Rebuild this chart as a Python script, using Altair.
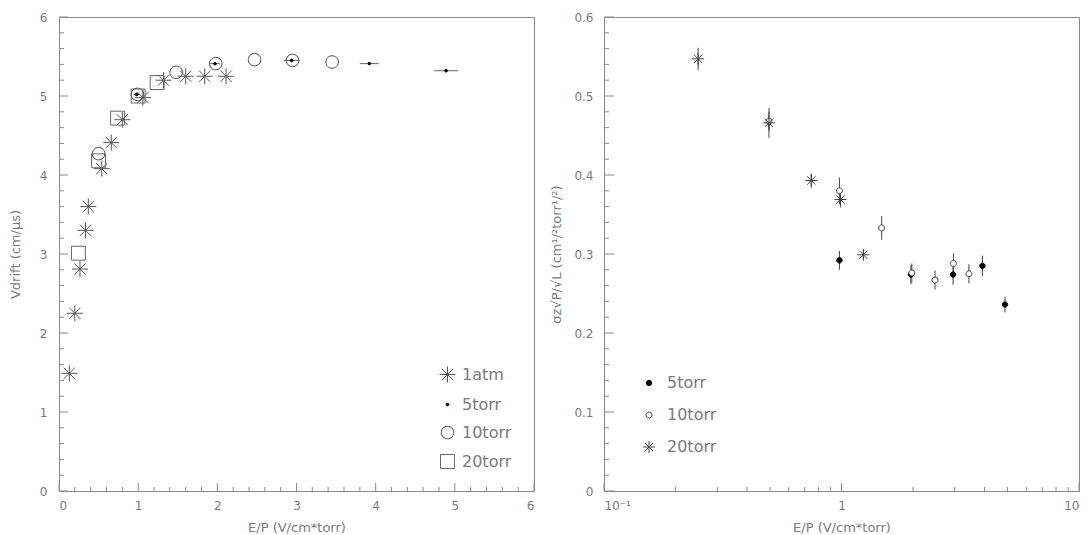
import altair as alt
import pandas as pd

# ---------------- data: left panel (drift velocity) ----------------
LEFT_SERIES = ["1atm", "5torr", "10torr", "20torr"]

atm_ep = [0.13, 0.20, 0.265, 0.335, 0.37, 0.54, 0.66, 0.80, 1.06, 1.32, 1.60, 1.84, 2.11]
atm_v = [1.49, 2.25, 2.81, 3.30, 3.60, 4.08, 4.41, 4.70, 4.98, 5.20, 5.25, 5.25, 5.25]

t5_ep = [0.98, 1.97, 2.94, 3.92, 4.89]
t5_v = [5.02, 5.41, 5.45, 5.41, 5.32]
t5_xerr = [0.04, 0.06, 0.10, 0.12, 0.15]

t10_ep = [0.50, 0.99, 1.48, 1.98, 2.47, 2.95, 3.45]
t10_v = [4.27, 5.02, 5.30, 5.41, 5.46, 5.45, 5.43]

t20_ep = [0.245, 0.50, 0.74, 1.00, 1.24]
t20_v = [3.01, 4.18, 4.72, 5.00, 5.17]

# ---------------- data: right panel (diffusion) ----------------
RIGHT_SERIES = ["5torr", "10torr", "20torr"]

r5_ep = [0.98, 1.96, 2.95, 3.92, 4.88]
r5_s = [0.292, 0.274, 0.274, 0.285, 0.236]
r5_err = [0.012, 0.012, 0.013, 0.013, 0.010]

r10_ep = [0.495, 0.98, 1.476, 1.977, 2.476, 2.96, 3.44]
r10_s = [0.468, 0.380, 0.333, 0.276, 0.267, 0.288, 0.275]
r10_err = [0.012, 0.017, 0.015, 0.012, 0.012, 0.013, 0.012]

r20_ep = [0.249, 0.495, 0.746, 0.99, 1.236]
r20_s = [0.547, 0.466, 0.393, 0.369, 0.299]
r20_err = [0.014, 0.019, 0.009, 0.010, 0.006]

# ---------------- tick values ----------------
left_major = [0, 1, 2, 3, 4, 5, 6]
left_minor = [round(i * 0.2, 1) for i in range(31) if i % 5]
right_y_major = [0, 0.1, 0.2, 0.3, 0.4, 0.5, 0.6]
right_y_minor = [round(i * 0.02, 2) for i in range(31) if i % 5]
right_x_major = [0.1, 1, 10]
right_x_minor = [0.2, 0.3, 0.4, 0.5, 0.6, 0.7, 0.8, 0.9, 2, 3, 4, 5, 6, 7, 8, 9]

# ---------------- build tables ----------------
left_df = pd.concat([
    pd.DataFrame({"series": "1atm", "ep": atm_ep, "v": atm_v}),
    pd.DataFrame({"series": "5torr", "ep": t5_ep, "v": t5_v}),
    pd.DataFrame({"series": "10torr", "ep": t10_ep, "v": t10_v}),
    pd.DataFrame({"series": "20torr", "ep": t20_ep, "v": t20_v}),
], ignore_index=True)
left_err = pd.DataFrame({"v": t5_v,
                         "lo": [a - b for a, b in zip(t5_ep, t5_xerr)],
                         "hi": [a + b for a, b in zip(t5_ep, t5_xerr)]})

right_df = pd.concat([
    pd.DataFrame({"series": "5torr", "ep": r5_ep, "s": r5_s, "e": r5_err}),
    pd.DataFrame({"series": "10torr", "ep": r10_ep, "s": r10_s, "e": r10_err}),
    pd.DataFrame({"series": "20torr", "ep": r20_ep, "s": r20_s, "e": r20_err}),
], ignore_index=True)
right_df["lo"] = right_df["s"] - right_df["e"]
right_df["hi"] = right_df["s"] + right_df["e"]

# ---------------- styles ----------------
FONT = "DejaVu Sans"
AXC = "#8a8a8a"
TXT = "#7a7a7a"
W, H = 475, 474

ASTER = "M-1,0L1,0M0,-1L0,1M-0.7,-0.7L0.7,0.7M-0.7,0.7L0.7,-0.7"
def circ(r):
    return f"M{-r},0A{r},{r} 0 1,0 {r},0A{r},{r} 0 1,0 {-r},0Z"
def sq(h):
    return f"M{-h},{-h}L{h},{-h}L{h},{h}L{-h},{h}Z"

# ---------------- left panel ----------------
xl_scale = alt.Scale(domain=[0, 6], nice=False, zero=False)
yl_scale = alt.Scale(domain=[0, 6], nice=False, zero=False)
xl_axis = alt.Axis(title="E/P (V/cm*torr)", values=left_major, format="d", ticks=False,
                   domain=False, grid=False, labelPadding=9, titlePadding=10)
yl_axis = alt.Axis(title="Vdrift (cm/μs)", values=left_major, format="d", ticks=False,
                   domain=False, grid=False, labelPadding=12, titlePadding=17)

def XL(f):
    return alt.X(f, type="quantitative", scale=xl_scale, axis=xl_axis)
def YL(f):
    return alt.Y(f, type="quantitative", scale=yl_scale, axis=yl_axis)

left_legend = alt.Legend(title=None, orient="none", legendX=380, legendY=349, padding=0,
                         labelFontSize=16, labelColor=TXT, labelFont=FONT, rowPadding=11,
                         labelOffset=6, symbolStrokeWidth=1, symbolSize=256)

lx_major = alt.Chart(pd.DataFrame({"t": left_major})).mark_rule(color=AXC).encode(
    x=XL("t"), y=alt.value(H), y2=alt.value(H - 8))
lx_minor = alt.Chart(pd.DataFrame({"t": left_minor})).mark_rule(color=AXC).encode(
    x=XL("t"), y=alt.value(H), y2=alt.value(H - 4))
ly_major = alt.Chart(pd.DataFrame({"t": left_major})).mark_rule(color=AXC).encode(
    y=YL("t"), x=alt.value(0), x2=alt.value(9))
ly_minor = alt.Chart(pd.DataFrame({"t": left_minor})).mark_rule(color=AXC).encode(
    y=YL("t"), x=alt.value(0), x2=alt.value(5))

l_err = alt.Chart(left_err).mark_rule(color="#666", strokeWidth=1).encode(
    x=XL("lo"), x2="hi", y=YL("v"))

l_pts = alt.Chart(left_df).mark_point(size=256, opacity=1, strokeWidth=1).encode(
    x=XL("ep"), y=YL("v"),
    shape=alt.Shape("series:N", scale=alt.Scale(domain=LEFT_SERIES,
                    range=[ASTER, circ(0.17), circ(0.78), sq(0.87)]), legend=left_legend),
    fill=alt.Fill("series:N", scale=alt.Scale(domain=LEFT_SERIES,
                  range=["transparent", "black", "transparent", "transparent"]), legend=left_legend),
    stroke=alt.Stroke("series:N", scale=alt.Scale(domain=LEFT_SERIES,
                      range=["#555555", "black", "#444444", "#666666"]), legend=left_legend),
)

left = alt.layer(lx_minor, lx_major, ly_minor, ly_major, l_err, l_pts).properties(width=W, height=H)

# ---------------- right panel ----------------
xr_scale = alt.Scale(type="log", domain=[0.1, 10], nice=False)
yr_scale = alt.Scale(domain=[0, 0.6], nice=False, zero=False)
xr_axis = alt.Axis(title="E/P (V/cm*torr)", values=right_x_major, ticks=False, domain=False,
                   grid=False, labelPadding=9, titlePadding=10,
                   labelExpr="datum.value < 0.5 ? '10⁻¹' : (datum.value < 5 ? '1' : '10')")
yr_axis = alt.Axis(title="σz√P/√L (cm¹/²torr¹/²)", values=right_y_major, format=".1~f",
                   ticks=False, domain=False, grid=False, labelPadding=11, titlePadding=10)

def XR(f):
    return alt.X(f, type="quantitative", scale=xr_scale, axis=xr_axis)
def YR(f):
    return alt.Y(f, type="quantitative", scale=yr_scale, axis=yr_axis)

right_legend = alt.Legend(title=None, orient="none", legendX=37, legendY=358, padding=0,
                          labelFontSize=16, labelColor=TXT, labelFont=FONT, rowPadding=16,
                          labelOffset=10, symbolStrokeWidth=1, symbolSize=144)

rx_major = alt.Chart(pd.DataFrame({"t": right_x_major})).mark_rule(color=AXC).encode(
    x=XR("t"), y=alt.value(H), y2=alt.value(H - 8))
rx_minor = alt.Chart(pd.DataFrame({"t": right_x_minor})).mark_rule(color=AXC).encode(
    x=XR("t"), y=alt.value(H), y2=alt.value(H - 4))
ry_major = alt.Chart(pd.DataFrame({"t": right_y_major})).mark_rule(color=AXC).encode(
    y=YR("t"), x=alt.value(0), x2=alt.value(10))
ry_minor = alt.Chart(pd.DataFrame({"t": right_y_minor})).mark_rule(color=AXC).encode(
    y=YR("t"), x=alt.value(0), x2=alt.value(5))

r_err = alt.Chart(right_df).mark_rule(color="#444", strokeWidth=1).encode(
    x=XR("ep"), y=YR("lo"), y2="hi")

r_pts = alt.Chart(right_df).mark_point(size=144, opacity=1, strokeWidth=1).encode(
    x=XR("ep"), y=YR("s"),
    shape=alt.Shape("series:N", scale=alt.Scale(domain=RIGHT_SERIES,
                    range=[circ(0.45), circ(0.5), ASTER]), legend=right_legend),
    fill=alt.Fill("series:N", scale=alt.Scale(domain=RIGHT_SERIES,
                  range=["black", "white", "transparent"]), legend=right_legend),
    stroke=alt.Stroke("series:N", scale=alt.Scale(domain=RIGHT_SERIES,
                      range=["black", "#444444", "#444444"]), legend=right_legend),
)

right = alt.layer(rx_minor, rx_major, ry_minor, ry_major, r_err, r_pts).properties(width=W, height=H)

chart = alt.hconcat(left, right, spacing=15).resolve_scale(
    shape="independent", fill="independent", stroke="independent"
).properties(
    padding={"left": 8, "top": 10, "right": 0, "bottom": 0},
    background="white",
).configure_view(
    stroke=AXC, strokeWidth=1
).configure_axis(
    labelFont=FONT, labelFontSize=12, labelColor=TXT,
    titleFont=FONT, titleFontSize=13, titleColor=TXT, titleFontWeight="normal",
)

chart.save("out.html", embed_options={"renderer": "svg", "actions": False})
